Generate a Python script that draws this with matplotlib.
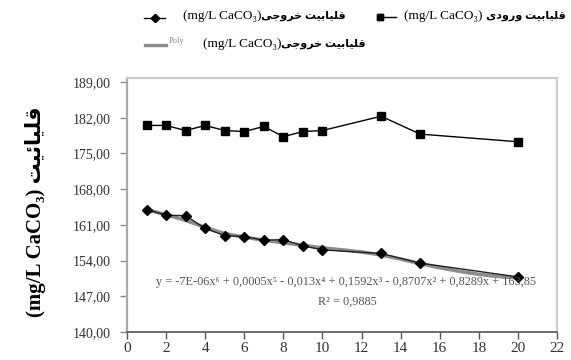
import matplotlib
matplotlib.use("Agg")
import matplotlib.pyplot as plt
from matplotlib.lines import Line2D

# data
days = [1, 2, 3, 4, 5, 6, 7, 8, 9, 10, 13, 15, 20]
alk_in = [180.5, 180.5, 179.5, 180.5, 179.5, 179.3, 180.3, 178.3, 179.3, 179.5, 182.3, 178.8, 177.3]
alk_out = [164.0, 162.9, 162.8, 160.3, 158.9, 158.7, 158.0, 158.1, 156.9, 156.1, 155.4, 153.5, 150.8]
trend_x = [1, 2, 3, 4, 5, 6, 7, 8, 9, 10, 11, 12, 13, 14, 15, 16, 17, 18, 19, 20]
trend_y = [164.0, 163.0, 161.9, 160.5, 159.3, 158.6, 158.0, 157.5, 157.0, 156.5,
           156.1, 155.7, 155.1, 154.3, 153.4, 152.6, 151.9, 151.3, 150.9, 150.6]
yticks = [140, 147, 154, 161, 168, 175, 182, 189]
xticks = [0, 2, 4, 6, 8, 10, 12, 14, 16, 18, 20, 22]

eq_text = "y = -7E-06x\u2076 + 0,0005x\u2075 - 0,013x\u2074 + 0,1592x\u00b3 - 0,8707x\u00b2 + 0,8289x + 163,85"
r2_text = "R\u00b2 = 0,9885"
lbl_in = "قلیابیت ورودی"
lbl_out = "قلیابیت خروجی"
lbl_y = "قلیائیت"
unit = "(mg/L CaCO\u2083)"

FAM = ["Liberation Serif", "DejaVu Sans"]

# crude arabic shaping: isolated, final, initial, medial
FORMS = {
    "ق": "\ufed5\ufed6\ufed7\ufed8",
    "ل": "\ufedd\ufede\ufedf\ufee0",
    "ی": "\ufbfc\ufbfd\ufbfe\ufbff",
    "ا": "\ufe8d\ufe8e\ufe8d\ufe8e",
    "ئ": "\ufe89\ufe8a\ufe8b\ufe8c",
    "ب": "\ufe8f\ufe90\ufe91\ufe92",
    "ت": "\ufe95\ufe96\ufe97\ufe98",
    "خ": "\ufea5\ufea6\ufea7\ufea8",
    "ر": "\ufead\ufeae\ufead\ufeae",
    "و": "\ufeed\ufeee\ufeed\ufeee",
    "ج": "\ufe9d\ufe9e\ufe9f\ufea0",
    "د": "\ufea9\ufeaa\ufea9\ufeaa",
}
RIGHT_ONLY = set("ارودز")


def shape(s):
    out = []
    for i, ch in enumerate(s):
        if ch not in FORMS:
            out.append(ch)
            continue
        prev = s[i - 1] if i > 0 else ""
        nxt = s[i + 1] if i + 1 < len(s) else ""
        jp = prev in FORMS and prev not in RIGHT_ONLY
        jn = nxt in FORMS and ch not in RIGHT_ONLY
        f = FORMS[ch]
        if jp and jn:
            out.append(f[3])
        elif jp:
            out.append(f[1])
        elif jn:
            out.append(f[2])
        else:
            out.append(f[0])
    return "".join(out)[::-1]


fig = plt.figure(figsize=(5.71, 3.60), dpi=100)
ax = fig.add_axes([127 / 571, 1 - 332 / 360, 430 / 571, 254 / 360])

ax.plot(days, alk_in, color="black", lw=1.0, marker="s", ms=6, mfc="black", mec="black", zorder=3)
ax.plot(trend_x, trend_y, color="#8c8c8c", lw=2.6, solid_capstyle="round", zorder=2)
ax.plot(days, alk_out, color="#222222", lw=1.0, marker="D", ms=5, mfc="black", mec="black", zorder=4)

ax.set_xlim(0, 22)
ax.set_ylim(140, 189.8)
ax.set_xticks(xticks)
ax.set_yticks(yticks)
ax.set_yticklabels([("%.2f" % v).replace(".", ",") for v in yticks])
for lab in ax.get_xticklabels() + ax.get_yticklabels():
    lab.set_family(FAM)
    lab.set_color("#333333")
ax.tick_params(axis="y", length=5, width=1, color="#888888", pad=7, labelsize=10)
ax.tick_params(axis="x", length=5, width=1, color="#555555", pad=2.5, labelsize=11)

for side in ["top", "right"]:
    ax.spines[side].set_color("#cccccc")
    ax.spines[side].set_linewidth(1.6)
ax.spines["left"].set_color("#aaaaaa")
ax.spines["left"].set_linewidth(1.6)
ax.spines["bottom"].set_color("#555555")
ax.spines["bottom"].set_linewidth(1.2)

# trend equation
fig.text(346 / 571, 1 - 282 / 360, eq_text, family=FAM, fontsize=8.8, color="#555555",
         ha="center", va="center")
fig.text(347 / 571, 1 - 302 / 360, r2_text, family=FAM, fontsize=8.8, color="#555555",
         ha="center", va="center")

# y label
fig.text(36 / 571, 1 - 212 / 360, unit + " " + shape(lbl_y), family=FAM, fontsize=15,
         fontweight="bold", rotation=90, ha="center", va="center")

renderer = fig.canvas.get_renderer()


def legend_text(x_right, y, arabic, gap):
    t = fig.text(x_right / 571, 1 - y / 360, shape(arabic), family=FAM, fontsize=8,
                 fontweight="bold", ha="right", va="center")
    bb = t.get_window_extent(renderer)
    fig.text((bb.x0 - gap) / 571, 1 - y / 360, unit, family=FAM, fontsize=9.5,
             ha="right", va="center")


def legend_line(x0, x1, y, **kw):
    fig.add_artist(Line2D([x0 / 571, x1 / 571], [1 - y / 360, 1 - y / 360],
                          transform=fig.transFigure, **kw))


# row 1 left: output
legend_line(144, 165, 18, color="black", lw=1.0)
legend_line(155, 155, 18, color="black", marker="D", ms=4.5, lw=0)
legend_text(346, 16, lbl_out, 0)
# row 1 right: input
legend_line(378, 396, 17, color="black", lw=1.0)
legend_line(380, 380, 17, color="black", marker="s", ms=5, lw=0)
legend_text(566, 16, lbl_in, 4)
# row 2: poly trend
legend_line(145, 166, 45, color="#8c8c8c", lw=2.4)
fig.text(169 / 571, 1 - 41 / 360, "Poly", family=FAM, fontsize=6, color="#888888",
         ha="left", va="center")
legend_text(366, 44, lbl_out, 0)

fig.savefig("out.png", dpi=100)
